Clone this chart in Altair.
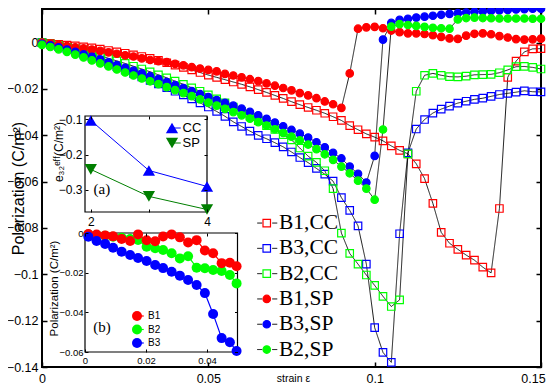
import altair as alt
import pandas as pd

# ---------------- data ----------------
strain = [0.0, 0.0025, 0.005, 0.0075, 0.01, 0.0125, 0.015, 0.0175, 0.02, 0.0225,
          0.025, 0.0275, 0.03, 0.0325, 0.035, 0.0375, 0.04, 0.0425, 0.045, 0.0475,
          0.05, 0.0525, 0.055, 0.0575, 0.06, 0.0625, 0.065, 0.0675, 0.07, 0.0725,
          0.075, 0.0775, 0.08, 0.0825, 0.085, 0.0875, 0.09, 0.0925, 0.095, 0.0975,
          0.1, 0.1025, 0.105, 0.1075, 0.11, 0.1125, 0.115, 0.1175, 0.12, 0.1225,
          0.125, 0.1275, 0.13, 0.1325, 0.135, 0.1375, 0.14, 0.1425, 0.145, 0.1475, 0.15]

b1_cc = [0, -0.0003, -0.0007, -0.0011, -0.0014, -0.0018, -0.0023, -0.0028, -0.0034, -0.004,
         -0.0046, -0.0053, -0.006, -0.0068, -0.0077, -0.0087, -0.0097, -0.0107, -0.0118, -0.0129,
         -0.014, -0.015, -0.016, -0.017, -0.018, -0.0191, -0.0203, -0.0215, -0.0228, -0.0241,
         -0.0255, -0.0268, -0.028, -0.0292, -0.0305, -0.032, -0.0336, -0.0358, -0.0376, -0.0394,
         -0.0408, -0.0424, -0.0446, -0.0465, -0.048, -0.0523, -0.0587, -0.0694, -0.0819, -0.0866,
         -0.0892, -0.0917, -0.0939, -0.0969, -0.0994, -0.0716, -0.015, -0.008, -0.004, -0.0027, -0.0026]
b3_cc = [0, -0.0008, -0.0017, -0.0027, -0.0038, -0.005, -0.0063, -0.0076, -0.009, -0.0104,
         -0.0118, -0.0133, -0.0148, -0.0163, -0.0178, -0.0194, -0.021, -0.0226, -0.0243, -0.026,
         -0.0278, -0.0297, -0.0318, -0.0342, -0.0362, -0.0382, -0.04, -0.0415, -0.0432, -0.045,
         -0.0472, -0.0496, -0.0518, -0.0543, -0.0568, -0.0598, -0.0669, -0.0724, -0.0791, -0.0956,
         -0.123, -0.1337, -0.138, -0.0825, -0.0476, -0.0373, -0.0332, -0.0304, -0.0287, -0.0274,
         -0.0261, -0.0253, -0.0245, -0.024, -0.0232, -0.0224, -0.0219, -0.0214, -0.0208, -0.0212, -0.0213]
b2_cc = [0, -0.0006, -0.0013, -0.002, -0.0028, -0.0037, -0.0047, -0.0057, -0.0068, -0.0079,
         -0.009, -0.0102, -0.0114, -0.0126, -0.0139, -0.0152, -0.0166, -0.018, -0.0195, -0.021,
         -0.0226, -0.0243, -0.026, -0.0278, -0.0297, -0.0317, -0.0337, -0.0358, -0.0375, -0.0397,
         -0.042, -0.0455, -0.049, -0.0517, -0.0553, -0.063, -0.0822, -0.091, -0.0956, -0.1003,
         -0.1048, -0.1095, -0.1139, -0.111, -0.048, -0.021, -0.0141, -0.0133, -0.0141, -0.0147,
         -0.0148, -0.0145, -0.0139, -0.0138, -0.0137, -0.013, -0.0118, -0.0104, -0.0103, -0.0107, -0.0114]
b1_sp = [0, -0.0005, -0.001, -0.0015, -0.002, -0.0025, -0.003, -0.0036, -0.0042, -0.0048,
         -0.0055, -0.006, -0.0068, -0.0075, -0.008, -0.0084, -0.0092, -0.0098, -0.0106, -0.0112,
         -0.0118, -0.0124, -0.0135, -0.0142, -0.015, -0.0158, -0.0166, -0.0176, -0.0186, -0.0196,
         -0.0206, -0.0218, -0.0228, -0.024, -0.0254, -0.0266, -0.0282, -0.0133, 0.006, 0.0066,
         0.0068, 0.0062, 0.0052, 0.0045, 0.004, 0.004, 0.0037, 0.0032, 0.0025, 0.0018,
         0.0016, 0.003, 0.0038, 0.004, 0.0036, 0.0028, 0.0022, 0.0015, 0.0013, 0.0014, 0.0017]
b3_sp = [-0.0005, -0.0012, -0.002, -0.003, -0.004, -0.0051, -0.0062, -0.0073, -0.0085, -0.0097,
         -0.0109, -0.0121, -0.0133, -0.0145, -0.0157, -0.017, -0.0183, -0.0196, -0.0209, -0.0222,
         -0.0235, -0.0248, -0.026, -0.0272, -0.0285, -0.0299, -0.0314, -0.0329, -0.0345, -0.0361,
         -0.0377, -0.0393, -0.041, -0.043, -0.0452, -0.0476, -0.05, -0.0535, -0.0566, -0.0604,
         -0.0489, 0.0013, 0.0085, 0.0098, 0.0103, 0.0108, 0.0112, 0.0116, 0.012, 0.0124,
         0.0127, 0.013, 0.0133, 0.0135, 0.0137, 0.0139, 0.0141, 0.0143, 0.0144, 0.0146, 0.0146]
b2_sp = [-0.001, -0.0019, -0.0029, -0.004, -0.0052, -0.0064, -0.0077, -0.009, -0.0103, -0.0116,
         -0.0129, -0.0142, -0.0155, -0.0167, -0.0179, -0.0192, -0.0205, -0.0218, -0.0231, -0.0245,
         -0.0259, -0.0272, -0.0286, -0.03, -0.0314, -0.0328, -0.0343, -0.0358, -0.0374, -0.039,
         -0.0406, -0.0422, -0.044, -0.046, -0.0482, -0.0506, -0.0535, -0.0564, -0.0596, -0.063,
         -0.0678, -0.0375, 0.0069, 0.008, 0.0076, 0.0072, 0.0068, 0.0064, 0.0062, 0.006,
         0.01, 0.0106, 0.0108, 0.0106, 0.0105, 0.0104, 0.0104, 0.0104, 0.0104, 0.0103, 0.0103]

series_names = ["B1,CC", "B3,CC", "B2,CC", "B1,SP", "B3,SP", "B2,SP"]
series_values = [b1_cc, b3_cc, b2_cc, b1_sp, b3_sp, b2_sp]

# inset (a)
ina_n = [2, 3, 4]
e32_cc = [-0.104, -0.245, -0.29]
e32_sp = [-0.242, -0.318, -0.355]
ina_names = ["CC", "SP"]

# inset (b)
inb_x = [0.0011, 0.0038, 0.0066, 0.0092, 0.012, 0.0148, 0.0174, 0.0202, 0.023, 0.0256,
         0.0284, 0.0311, 0.0338, 0.0366, 0.0393, 0.042, 0.0448, 0.0475, 0.0497]
inb_b1 = [-0.0005, -0.0008, -0.0012, -0.0017, -0.003, -0.004, -0.0007, -0.0037, -0.0042, -0.0018,
          -0.0007, -0.0022, -0.0048, -0.0036, -0.0088, -0.0102, -0.0152, -0.015, -0.0168]
inb_b2 = [-0.0007, -0.001, -0.0014, -0.0019, -0.0024, -0.003, -0.0035, -0.0069, -0.0077, -0.0086,
          -0.0102, -0.0128, -0.0117, -0.0175, -0.0178, -0.0187, -0.0192, -0.0212, -0.0254]
inb_b3 = [-0.0019, -0.004, -0.0055, -0.0074, -0.0094, -0.0111, -0.0126, -0.0141, -0.0161, -0.0177,
          -0.0195, -0.0215, -0.0237, -0.0262, -0.0303, -0.0408, -0.053, -0.0551, -0.0595]
inb_names = ["B2", "B1", "B3"]          # drawing order (blue on top)
inb_legend_order = ["B1", "B2", "B3"]

# tick labels
main_xticks = [0, 0.05, 0.1, 0.15]
main_xlabels = ["0", "0.05", "0.1", "0.15"]
main_yticks = [-0.14, -0.12, -0.1, -0.08, -0.06, -0.04, -0.02, 0]
ina_xticks = [2, 3, 4]
ina_yticks = [-0.3, -0.2, -0.1]
inb_xticks = [0, 0.02, 0.04]
inb_yticks = [-0.06, -0.04, -0.02, 0]

# ---------------- styles ----------------
SANS = "Liberation Sans"
SERIF = "Liberation Serif"
RED, BLUE, GREEN, DKGREEN = "#ff0000", "#0000ff", "#00ff00", "#007f00"
series_stroke = [RED, BLUE, GREEN, RED, BLUE, GREEN]
series_fill = ["transparent", "transparent", "transparent", RED, BLUE, GREEN]
series_shape = ["square", "square", "square", "circle", "circle", "circle"]
series_size = [56, 56, 56, 105, 105, 105]

W, H = 499, 358

# ---------------- tables ----------------
rows = []
for name, vals in zip(series_names, series_values):
    for s, p in zip(strain, vals):
        rows.append({"strain": s, "pol": p, "series": name, "lineid": "L " + name})
main_df = pd.DataFrame(rows)
line_ids = ["L " + n for n in series_names]

ina_rows = []
for name, vals in zip(ina_names, [e32_cc, e32_sp]):
    for n, e in zip(ina_n, vals):
        ina_rows.append({"n": n, "e": e, "cond": name, "cond_l": name + " line"})
ina_df = pd.DataFrame(ina_rows)

inb_map = {"B1": inb_b1, "B2": inb_b2, "B3": inb_b3}
inb_rows = []
for name in inb_names:
    for xv, yv in zip(inb_x, inb_map[name]):
        inb_rows.append({"bx": xv, "by": yv, "ser": name, "ser_l": name + " line"})
inb_df = pd.DataFrame(inb_rows)

tick_df = pd.DataFrame({"tx": [0.0], "ty": [0.0]})


def tick_axis(orient, offset, vals, size=5, width=1.5, z=0):
    return alt.Axis(orient=orient, offset=offset, values=vals, labels=False, domain=False,
                    grid=False, ticks=True, tickSize=size, tickWidth=width, tickColor="black",
                    title=None, zindex=z)


# ---------------- main plot ----------------
def xs_main():
    return alt.Scale(domain=[0, 0.15], nice=False, zero=False)


def ys_main():
    return alt.Scale(domain=[-0.14, 0.0145], nice=False, zero=False)


xlabel_expr = ("datum.value > 0.14 ? '%s' : datum.value > 0.09 ? '%s' : datum.value > 0.04 ? '%s' : '%s'"
               % (main_xlabels[3], main_xlabels[2], main_xlabels[1], main_xlabels[0]))

x_axis_main = alt.Axis(values=main_xticks, labelExpr=xlabel_expr, labelFont=SANS, labelFontSize=12.5,
                       labelColor="black", labelPadding=5, ticks=False, tickSize=0, domain=False,
                       grid=False, labelFlush=False, labelOverlap=False,
                       labelOffset={"expr": "datum.value > 0.14 ? -8 : 0"},
                       title="strain ε", titleFont=SANS, titleFontSize=10.5, titleFontWeight="normal",
                       titleColor="black", titleX=251, titleY=11, titleAlign="center",
                       titleBaseline="middle")
y_axis_main = alt.Axis(values=main_yticks, format="~g", labelFont=SANS, labelFontSize=12.5,
                       labelColor="black", labelPadding=4, ticks=False, tickSize=0, domain=False,
                       grid=False, labelFlush=False, labelOverlap=False,
                       title="Polarization (C/m²)", titleFont=SANS, titleFontSize=16,
                       titleFontWeight="normal", titleColor="black", titleX=-24, titleY=179,
                       titleAngle=270, titleAlign="center", titleBaseline="middle")

leg_main_lines = alt.Legend(orient="none", legendX=214.5, legendY=203.3, direction="vertical",
                            title=None, labelFont=SERIF, labelFontSize=21.5, labelExpr="''",
                            rowPadding=2.3, padding=0, symbolType="M-2,0H-1M1,0H2",
                            symbolSize=100, symbolStrokeColor="black", symbolStrokeWidth=1)
leg_main_pts = alt.Legend(orient="none", legendX=214, legendY=203.3, direction="vertical",
                          title=None, labelFont=SERIF, labelFontSize=21.5, labelColor="black",
                          labelOffset=1.5, rowPadding=2.3, padding=0, symbolStrokeWidth=1.2)

lines_main = alt.Chart(main_df).mark_line(color="black", strokeWidth=0.9).encode(
    x=alt.X("strain:Q", scale=xs_main(), axis=x_axis_main),
    y=alt.Y("pol:Q", scale=ys_main(), axis=y_axis_main),
    strokeDash=alt.StrokeDash("lineid:N", scale=alt.Scale(domain=line_ids, range=[[1, 0]] * 6),
                              legend=leg_main_lines),
)
points_main = alt.Chart(main_df).mark_point(filled=True, opacity=1, strokeWidth=1.2).encode(
    x=alt.X("strain:Q", scale=xs_main(), axis=None),
    y=alt.Y("pol:Q", scale=ys_main(), axis=None),
    fill=alt.Fill("series:N", scale=alt.Scale(domain=series_names, range=series_fill), legend=leg_main_pts),
    stroke=alt.Stroke("series:N", scale=alt.Scale(domain=series_names, range=series_stroke), legend=leg_main_pts),
    shape=alt.Shape("series:N", scale=alt.Scale(domain=series_names, range=series_shape), legend=leg_main_pts),
    size=alt.Size("series:N", scale=alt.Scale(domain=series_names, range=series_size), legend=leg_main_pts),
)

# inward ticks of the main frame
ticks_1 = alt.Chart(tick_df).mark_point(opacity=0).encode(
    x=alt.X("tx:Q", scale=xs_main(), axis=tick_axis("top", -H, main_xticks)),
    y=alt.Y("ty:Q", scale=ys_main(), axis=tick_axis("right", -W, main_yticks)),
)
ticks_2 = alt.Chart(tick_df).mark_point(opacity=0).encode(
    x=alt.X("tx:Q", scale=xs_main(), axis=tick_axis("bottom", -H, main_xticks)),
    y=alt.Y("ty:Q", scale=ys_main(), axis=tick_axis("left", -W, main_yticks)),
)

# ---------------- inset (a) ----------------
A_L, A_R, A_T, A_B = 43, 165, 107, 203


def xs_a():
    return alt.Scale(domain=[1.9, 4], range=[A_L, A_R], nice=False, zero=False)


def ys_a():
    return alt.Scale(domain=[-0.362, -0.0915], range=[A_B, A_T], nice=False, zero=False)


ax_a_x = alt.Axis(orient="bottom", offset=A_B - H, values=ina_xticks, format="d", labelFont=SANS,
                  labelFontSize=12, labelColor="black", labelPadding=4, ticks=False, tickSize=0,
                  domain=False, grid=False, labelFlush=False, title=None)
ax_a_y = alt.Axis(orient="left", offset=-A_L, values=ina_yticks, format="~g", labelFont=SANS,
                  labelFontSize=12, labelColor="black", labelPadding=3, ticks=False, tickSize=0,
                  domain=False, grid=False, labelFlush=False,
                  title="e₃₂ᵉᶠᶠ(C/m²)", titleFont=SANS, titleFontSize=12, titleFontWeight="normal",
                  titleColor="black", titleX=-27, titleY=142.5, titleAngle=270,
                  titleAlign="center", titleBaseline="middle")
box_a = pd.DataFrame({"x0": [1.9], "x1": [4], "y0": [-0.362], "y1": [-0.0915]})
rect_a = alt.Chart(box_a).mark_rect(fill="white", stroke="black", strokeWidth=1.2).encode(
    x=alt.X("x0:Q", scale=xs_a(), axis=ax_a_x), x2="x1:Q",
    y=alt.Y("y0:Q", scale=ys_a(), axis=ax_a_y), y2="y1:Q",
)
ticks_a1 = alt.Chart(tick_df).mark_point(opacity=0).encode(
    x=alt.X("tx:Q", scale=xs_a(), axis=tick_axis("top", -A_B, ina_xticks, 3, 1, 1)),
    y=alt.Y("ty:Q", scale=ys_a(), axis=tick_axis("right", A_L - W, ina_yticks, 3, 1, 1)),
)
ticks_a2 = alt.Chart(tick_df).mark_point(opacity=0).encode(
    x=alt.X("tx:Q", scale=xs_a(), axis=tick_axis("bottom", A_T - H, ina_xticks, 3, 1, 1)),
    y=alt.Y("ty:Q", scale=ys_a(), axis=tick_axis("left", -A_R, ina_yticks, 3, 1, 1)),
)
leg_a_lines = alt.Legend(orient="none", legendX=126.5, legendY=112.5, direction="vertical", title=None,
                         labelFont=SANS, labelFontSize=13, labelExpr="''", rowPadding=1,
                         padding=0, symbolType="M-2,0H2", symbolSize=33, symbolStrokeWidth=1)
leg_a_pts = alt.Legend(orient="none", legendX=123.5, legendY=112.5, direction="vertical", title=None,
                       labelFont=SANS, labelFontSize=13, labelColor="black", labelOffset=4,
                       rowPadding=1, padding=0, symbolSize=150, symbolStrokeWidth=0)
lines_a = alt.Chart(ina_df).mark_line(strokeWidth=1).encode(
    x=alt.X("n:Q", scale=xs_a(), axis=None),
    y=alt.Y("e:Q", scale=ys_a(), axis=None),
    stroke=alt.Stroke("cond_l:N", scale=alt.Scale(domain=["CC line", "SP line"], range=[BLUE, DKGREEN]),
                      legend=leg_a_lines),
)
points_a = alt.Chart(ina_df).mark_point(filled=True, opacity=1, size=150).encode(
    x=alt.X("n:Q", scale=xs_a(), axis=None),
    y=alt.Y("e:Q", scale=ys_a(), axis=None),
    fill=alt.Fill("cond:N", scale=alt.Scale(domain=ina_names, range=[BLUE, DKGREEN]), legend=leg_a_pts),
    shape=alt.Shape("cond:N", scale=alt.Scale(domain=ina_names, range=["triangle-up", "triangle-down"]),
                    legend=leg_a_pts),
)
label_a = pd.DataFrame({"n": [2.19], "e": [-0.297], "t": ["(a)"]})
text_a = alt.Chart(label_a).mark_text(font=SERIF, fontSize=15, color="black").encode(
    x=alt.X("n:Q", scale=xs_a(), axis=None), y=alt.Y("e:Q", scale=ys_a(), axis=None), text="t:N")

# ---------------- inset (b) ----------------
B_L, B_R, B_T, B_B = 43, 195.5, 224, 343


def xs_b():
    return alt.Scale(domain=[0, 0.05], range=[B_L, B_R], nice=False, zero=False)


def ys_b():
    return alt.Scale(domain=[-0.06, 0], range=[B_B, B_T], nice=False, zero=False)


ax_b_x = alt.Axis(orient="bottom", offset=B_B - H, values=inb_xticks, format="~g", labelFont=SANS,
                  labelFontSize=9.5, labelColor="black", labelPadding=3, ticks=False, tickSize=0,
                  domain=False, grid=False, labelFlush=False, title=None)
ax_b_y = alt.Axis(orient="left", offset=-B_L, values=inb_yticks, format="~g", labelFont=SANS,
                  labelFontSize=9.5, labelColor="black", labelPadding=2, ticks=False, tickSize=0,
                  domain=False, grid=False, labelFlush=False,
                  title="Polarization (C/m²)", titleFont=SANS, titleFontSize=11.5,
                  titleFontWeight="normal", titleColor="black", titleX=-31, titleY=279,
                  titleAngle=270, titleAlign="center", titleBaseline="middle")
box_b = pd.DataFrame({"x0": [0], "x1": [0.05], "y0": [-0.06], "y1": [0]})
rect_b = alt.Chart(box_b).mark_rect(fill="white", stroke="black", strokeWidth=1.2).encode(
    x=alt.X("x0:Q", scale=xs_b(), axis=ax_b_x), x2="x1:Q",
    y=alt.Y("y0:Q", scale=ys_b(), axis=ax_b_y), y2="y1:Q",
)
ticks_b1 = alt.Chart(tick_df).mark_point(opacity=0).encode(
    x=alt.X("tx:Q", scale=xs_b(), axis=tick_axis("top", -B_B, inb_xticks, 3, 1, 1)),
    y=alt.Y("ty:Q", scale=ys_b(), axis=tick_axis("right", B_L - W, inb_yticks, 3, 1, 1)),
)
ticks_b2 = alt.Chart(tick_df).mark_point(opacity=0).encode(
    x=alt.X("tx:Q", scale=xs_b(), axis=tick_axis("bottom", B_T - H, inb_xticks, 3, 1, 1)),
    y=alt.Y("ty:Q", scale=ys_b(), axis=tick_axis("left", -B_R, inb_yticks, 3, 1, 1)),
)
inb_colors = [RED, GREEN, BLUE]
leg_b_lines = alt.Legend(orient="none", legendX=92, legendY=302, direction="vertical", title=None,
                         labelFont=SANS, labelFontSize=10, labelExpr="''", rowPadding=3.5,
                         padding=0, symbolType="M-2,0H2", symbolSize=22.6, symbolStrokeWidth=1.2)
leg_b_pts = alt.Legend(orient="none", legendX=90, legendY=302, direction="vertical", title=None,
                       labelFont=SANS, labelFontSize=10, labelColor="black", labelOffset=6,
                       rowPadding=3.5, padding=0, symbolSize=100, symbolType="circle",
                       symbolStrokeWidth=0)
lines_b = alt.Chart(inb_df).mark_line(strokeWidth=1.2).encode(
    x=alt.X("bx:Q", scale=xs_b(), axis=None),
    y=alt.Y("by:Q", scale=ys_b(), axis=None),
    stroke=alt.Stroke("ser_l:N", scale=alt.Scale(domain=[n + " line" for n in inb_legend_order],
                                                 range=inb_colors), legend=leg_b_lines),
)
points_b = alt.Chart(inb_df).mark_circle(opacity=1, size=100).encode(
    x=alt.X("bx:Q", scale=xs_b(), axis=None),
    y=alt.Y("by:Q", scale=ys_b(), axis=None),
    fill=alt.Fill("ser:N", scale=alt.Scale(domain=inb_legend_order, range=inb_colors), legend=leg_b_pts),
)
label_b = pd.DataFrame({"bx": [0.0056], "by": [-0.0472], "t": ["(b)"]})
text_b = alt.Chart(label_b).mark_text(font=SERIF, fontSize=15, color="black").encode(
    x=alt.X("bx:Q", scale=xs_b(), axis=None), y=alt.Y("by:Q", scale=ys_b(), axis=None), text="t:N")

# ---------------- compose ----------------
chart = alt.layer(
    lines_main, points_main, ticks_1, ticks_2,
    rect_a, lines_a, points_a, text_a, ticks_a1, ticks_a2,
    rect_b, lines_b, points_b, text_b, ticks_b1, ticks_b2,
).resolve_scale(
    x="independent", y="independent", fill="independent", stroke="independent",
    shape="independent", strokeDash="independent", size="independent",
).properties(
    width=W, height=H,
    autosize=alt.AutoSizeParams(type="none"),
    padding={"left": 34, "top": 1, "right": 5, "bottom": 23},
    background="white",
).configure_view(stroke="black", strokeWidth=2)

chart.save("out.html", embed_options={"renderer": "svg", "actions": False})
